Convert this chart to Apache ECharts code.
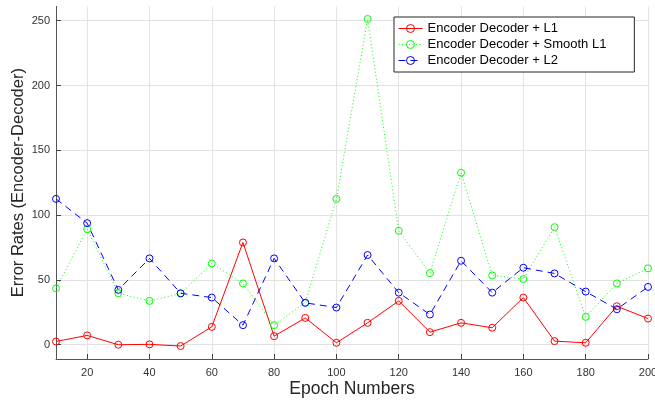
<!DOCTYPE html>
<html><head><meta charset="utf-8">
<script src="https://cdn.jsdelivr.net/npm/echarts@6/dist/echarts.min.js"></script>
<style>html,body{margin:0;padding:0;background:#fff}#c{width:655px;height:402px}</style>
</head><body><div id="c"></div>
<script>
const epochs = [10,20,30,40,50,60,70,80,90,100,110,120,130,140,150,160,170,180,190,200];
const l1 = [2.5,7.2,0,0.3,-1,13.8,78.9,6.6,20.7,1.5,16.9,33.8,9.7,16.9,13.1,36.4,2.8,1.5,29.7,20.2];
const smoothL1 = [43.5,89.2,39.7,33.8,39.4,62.7,47.3,15.1,32.5,112.5,251.3,87.9,55.3,132.7,53.5,50.7,90.7,21.5,47.3,58.9];
const l2 = [112.5,93.8,42.3,66.6,39.7,36.4,15.1,66.6,32.3,28.7,69.2,40.2,23.3,64.8,40.2,59.4,55.0,41.0,27.4,44.6];
const xTicks = [20,40,60,80,100,120,140,160,180,200];
const yTicks = [0,50,100,150,200,250];
const seriesNames = ['Encoder Decoder + L1','Encoder Decoder + Smooth L1','Encoder Decoder + L2'];

const font = 'Liberation Sans, Arial, Helvetica, sans-serif';
const chart = echarts.init(document.getElementById('c'), null, {renderer:'canvas'});
function mk(name, vals, color, type){
  return {
    name, type:'line', data: epochs.map((x,i)=>[x, vals[i]]),
    symbol:'circle', symbolSize:7, showAllSymbol:true,
    lineStyle:{color, width:1, type},
    itemStyle:{color:'rgba(255,255,255,0)', borderColor:color, borderWidth:1},
    emphasis:{disabled:true},
    animation:false
  };
}
chart.setOption({
  animation:false,
  grid:{left:56, right:7, top:6.4, bottom:43, containLabel:false, outerBoundsMode:'none'},
  legend:{
    orient:'vertical', left:394, top:17,
    padding:[5,28,5,4], itemGap:3, itemWidth:24, itemHeight:10,
    backgroundColor:'#fff', borderColor:'#262626', borderWidth:1,
    itemStyle:{borderWidth:1},
    lineStyle:{width:1},
    textStyle:{fontFamily:font, fontSize:13, color:'#000'},
    data: seriesNames
  },
  xAxis:{
    type:'value', min:10, max:200,
    name:'Epoch Numbers', nameLocation:'middle', nameGap:21, nameMoveOverlap:false,
    nameTextStyle:{fontFamily:font, fontSize:17.5, color:'#262626'},
    axisLine:{onZero:false, lineStyle:{color:'#555', width:1}},
    axisTick:{show:true, inside:true, length:5, customValues:xTicks, lineStyle:{color:'#444'}},
    axisLabel:{customValues:xTicks, fontFamily:font, fontSize:11, color:'#333', margin:8},
    splitLine:{show:true, customValues:xTicks, lineStyle:{color:'#e3e3e3', width:1}}
  },
  yAxis:{
    type:'value', min:-11, max:261,
    name:'Error Rates (Encoder-Decoder)', nameLocation:'middle', nameGap:29, nameMoveOverlap:false,
    nameTextStyle:{fontFamily:font, fontSize:16.5, color:'#262626'},
    axisLine:{show:true, onZero:false, lineStyle:{color:'#555', width:1}},
    axisTick:{show:true, inside:true, length:5, customValues:yTicks, lineStyle:{color:'#444'}},
    axisLabel:{customValues:yTicks, fontFamily:font, fontSize:11, color:'#333', margin:6},
    splitLine:{show:true, customValues:yTicks, lineStyle:{color:'#e3e3e3', width:1}}
  },
  series:[
    mk(seriesNames[0], l1, '#ff0000', 'solid'),
    mk(seriesNames[1], smoothL1, '#00ff00', [1,2.5]),
    mk(seriesNames[2], l2, '#0000ff', [7,5])
  ]
});
</script></body></html>
